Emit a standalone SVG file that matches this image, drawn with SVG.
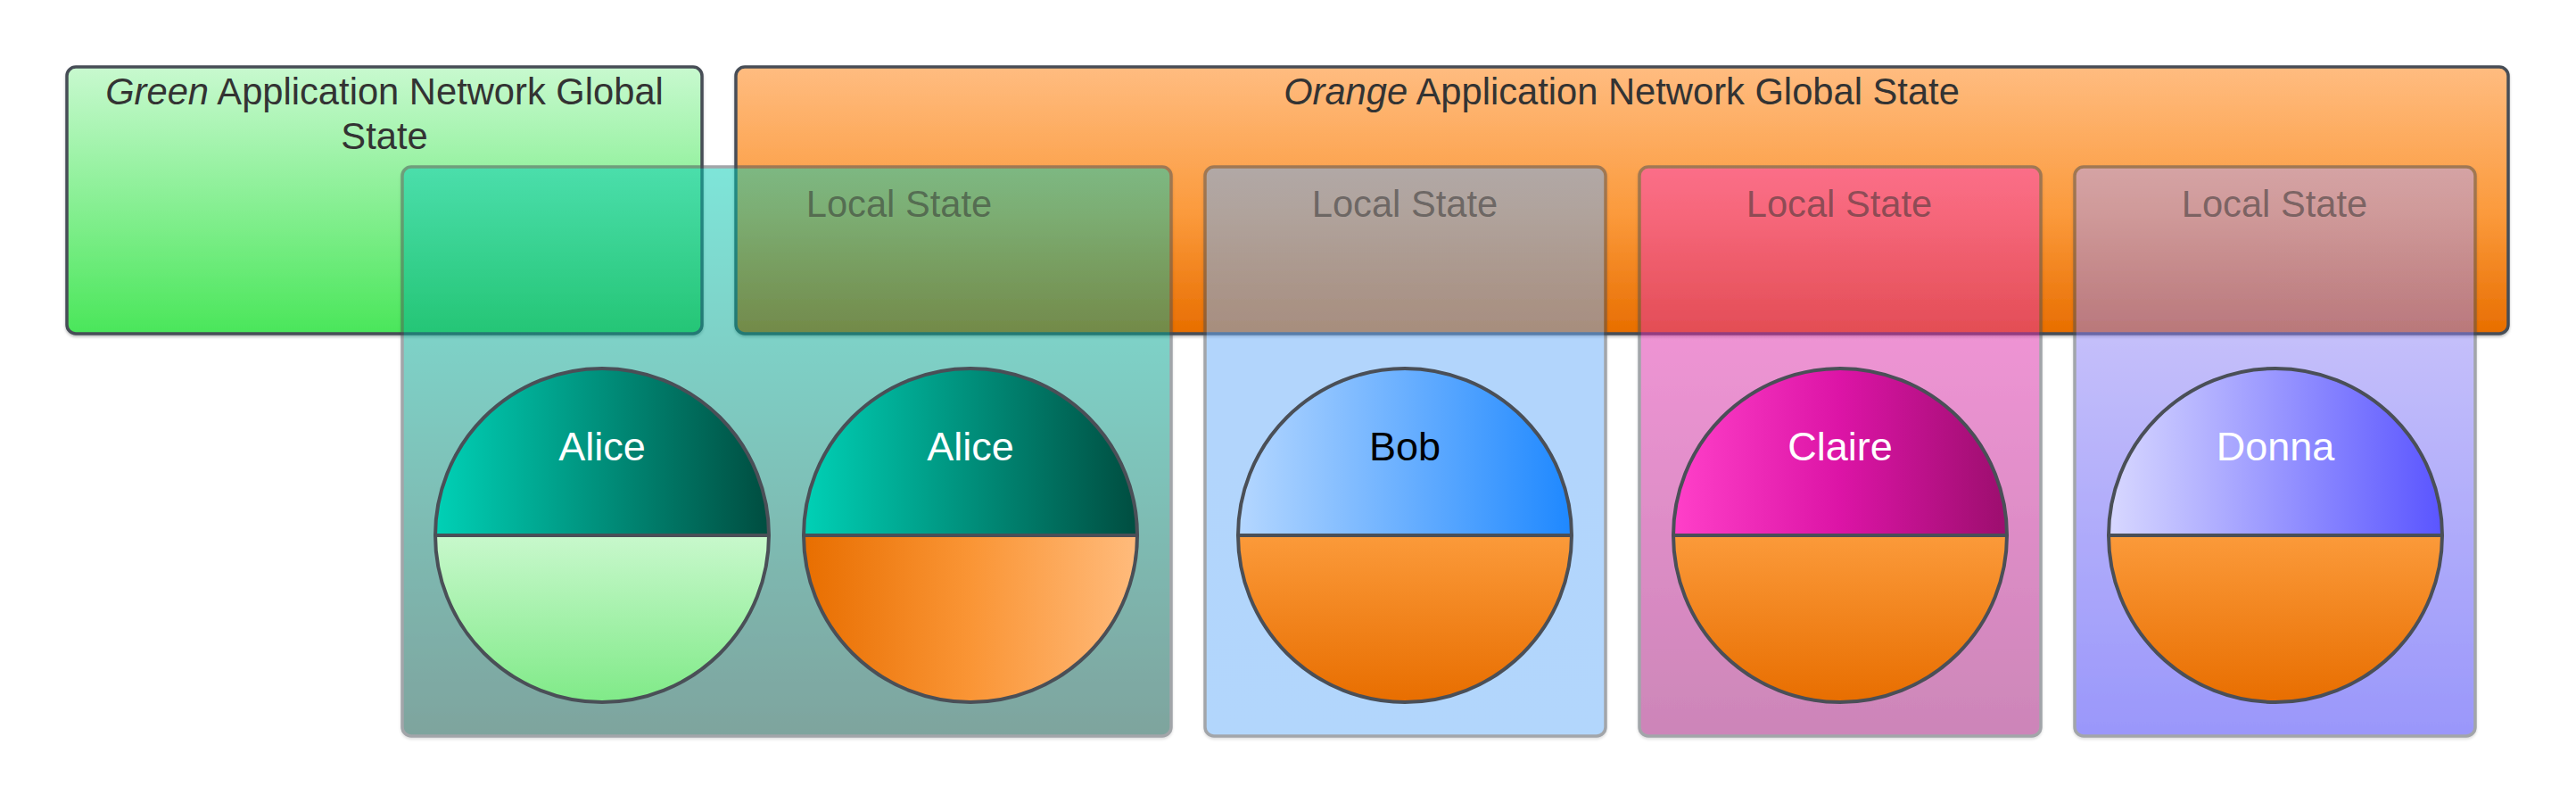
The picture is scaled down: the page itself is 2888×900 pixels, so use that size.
<svg xmlns="http://www.w3.org/2000/svg" width="2888" height="900" viewBox="0 0 2888 900">
<defs>
<linearGradient id="gGreen" x1="0" y1="0" x2="0" y2="1"><stop offset="0" stop-color="#c8f9cf"/><stop offset="1" stop-color="#4ae65a"/></linearGradient>
<linearGradient id="gOrange" x1="0" y1="0" x2="0" y2="1"><stop offset="0" stop-color="#ffbc80"/><stop offset="0.55" stop-color="#fb9a3c"/><stop offset="1" stop-color="#e86e00"/></linearGradient>
<linearGradient id="lTeal" x1="0" y1="0" x2="0" y2="1"><stop offset="0" stop-color="#00ccb4"/><stop offset="1" stop-color="#004b3f"/></linearGradient>
<linearGradient id="lBlue" x1="0" y1="0" x2="0" y2="1"><stop offset="0" stop-color="#68acfb"/><stop offset="1" stop-color="#68aefb"/></linearGradient>
<linearGradient id="lPink" x1="0" y1="0" x2="0" y2="1"><stop offset="0" stop-color="#fb39c0"/><stop offset="1" stop-color="#9b0f74"/></linearGradient>
<linearGradient id="lPurple" x1="0" y1="0" x2="0" y2="1"><stop offset="0" stop-color="#afa3f6"/><stop offset="1" stop-color="#3731f7"/></linearGradient>
<linearGradient id="tAlice" x1="0" y1="0" x2="1" y2="0"><stop offset="0" stop-color="#00d1b6"/><stop offset="1" stop-color="#004d40"/></linearGradient>
<linearGradient id="tBob" x1="0" y1="0" x2="1" y2="0"><stop offset="0" stop-color="#b5d7ff"/><stop offset="1" stop-color="#1e88ff"/></linearGradient>
<linearGradient id="tClaire" x1="0" y1="0" x2="1" y2="0"><stop offset="0" stop-color="#ff40c9"/><stop offset="0.5" stop-color="#dc14a6"/><stop offset="1" stop-color="#9c0e6e"/></linearGradient>
<linearGradient id="tDonna" x1="0" y1="0" x2="1" y2="0"><stop offset="0" stop-color="#d8d8ff"/><stop offset="1" stop-color="#5a55ff"/></linearGradient>
<linearGradient id="bGreen" x1="0" y1="0" x2="0" y2="1"><stop offset="0" stop-color="#c8f8cc"/><stop offset="1" stop-color="#80ea88"/></linearGradient>
<linearGradient id="bOrangeH" x1="0" y1="0" x2="1" y2="0"><stop offset="0" stop-color="#e86e00"/><stop offset="0.5" stop-color="#fa9535"/><stop offset="1" stop-color="#ffbb7c"/></linearGradient>
<linearGradient id="bOrangeV" x1="0" y1="0" x2="0" y2="1"><stop offset="0" stop-color="#fb9a3a"/><stop offset="1" stop-color="#e86e00"/></linearGradient>
<filter id="sh" x="-5%" y="-5%" width="110%" height="110%"><feDropShadow dx="0" dy="2" stdDeviation="1.5" flood-color="#000" flood-opacity="0.25"/></filter>
</defs>
<style>
.global{stroke:#474e57;stroke-width:3.5}
.local{stroke:#474e57;stroke-width:3.5;opacity:0.5}
.title{font-family:"Liberation Sans",Arial,sans-serif;font-size:41.7px;fill:#333;text-anchor:middle}
.ltitle{font-family:"Liberation Sans",Arial,sans-serif;font-size:41.7px;fill:#333;fill-opacity:0.55;text-anchor:middle}
.half{stroke:none}
.ring{fill:none;stroke:#4a4f57;stroke-width:4}
.name{font-family:"Liberation Sans",Arial,sans-serif;font-size:45px;text-anchor:middle}
</style>
<g id="green-global">
<rect x="75" y="75" width="712" height="299" rx="10" fill="url(#gGreen)" class="global" filter="url(#sh)"/>
</g>
<g id="orange-global">
<rect x="825" y="75" width="1987" height="299" rx="10" fill="url(#gOrange)" class="global" filter="url(#sh)"/>
</g>
<g id="local-alice">
<rect x="451" y="187" width="862" height="638" rx="10" fill="url(#lTeal)" class="local" filter="url(#sh)"/>
</g>
<g id="local-bob">
<rect x="1351" y="187" width="449" height="638" rx="10" fill="url(#lBlue)" class="local" filter="url(#sh)"/>
</g>
<g id="local-claire">
<rect x="1838" y="187" width="450" height="638" rx="10" fill="url(#lPink)" class="local" filter="url(#sh)"/>
</g>
<g id="local-donna">
<rect x="2326" y="187" width="449" height="638" rx="10" fill="url(#lPurple)" class="local" filter="url(#sh)"/>
</g>
<g id="titles">
<text class="title" x="431" y="117"><tspan font-style="italic">Green</tspan> Application Network Global</text>
<text class="title" x="431" y="167">State</text>
<text class="title" x="1818" y="117"><tspan font-style="italic">Orange</tspan> Application Network Global State</text>
<text class="ltitle" x="1008" y="243">Local State</text>
<text class="ltitle" x="1575" y="243">Local State</text>
<text class="ltitle" x="2062" y="243">Local State</text>
<text class="ltitle" x="2550" y="243">Local State</text>
</g>
<g id="alice-green">
<path class="half" d="M488,600 A187,187 0 0 1 862,600 Z" fill="url(#tAlice)"/>
<path class="half" d="M488,600 A187,187 0 0 0 862,600 Z" fill="url(#bGreen)"/>
<circle class="ring" cx="675" cy="600" r="187"/>
<line x1="488" y1="600" x2="862" y2="600" stroke="#4a4f57" stroke-width="4"/>
<text class="name" x="675" y="516" fill="#fff">Alice</text>
</g>
<g id="alice-orange">
<path class="half" d="M901,600 A187,187 0 0 1 1275,600 Z" fill="url(#tAlice)"/>
<path class="half" d="M901,600 A187,187 0 0 0 1275,600 Z" fill="url(#bOrangeH)"/>
<circle class="ring" cx="1088" cy="600" r="187"/>
<line x1="901" y1="600" x2="1275" y2="600" stroke="#4a4f57" stroke-width="4"/>
<text class="name" x="1088" y="516" fill="#fff">Alice</text>
</g>
<g id="bob">
<path class="half" d="M1388,600 A187,187 0 0 1 1762,600 Z" fill="url(#tBob)"/>
<path class="half" d="M1388,600 A187,187 0 0 0 1762,600 Z" fill="url(#bOrangeV)"/>
<circle class="ring" cx="1575" cy="600" r="187"/>
<line x1="1388" y1="600" x2="1762" y2="600" stroke="#4a4f57" stroke-width="4"/>
<text class="name" x="1575" y="516" fill="#000">Bob</text>
</g>
<g id="claire">
<path class="half" d="M1876,600 A187,187 0 0 1 2250,600 Z" fill="url(#tClaire)"/>
<path class="half" d="M1876,600 A187,187 0 0 0 2250,600 Z" fill="url(#bOrangeV)"/>
<circle class="ring" cx="2063" cy="600" r="187"/>
<line x1="1876" y1="600" x2="2250" y2="600" stroke="#4a4f57" stroke-width="4"/>
<text class="name" x="2063" y="516" fill="#fff">Claire</text>
</g>
<g id="donna">
<path class="half" d="M2364,600 A187,187 0 0 1 2738,600 Z" fill="url(#tDonna)"/>
<path class="half" d="M2364,600 A187,187 0 0 0 2738,600 Z" fill="url(#bOrangeV)"/>
<circle class="ring" cx="2551" cy="600" r="187"/>
<line x1="2364" y1="600" x2="2738" y2="600" stroke="#4a4f57" stroke-width="4"/>
<text class="name" x="2551" y="516" fill="#fff">Donna</text>
</g>
<g id="connectors"/>
</svg>
